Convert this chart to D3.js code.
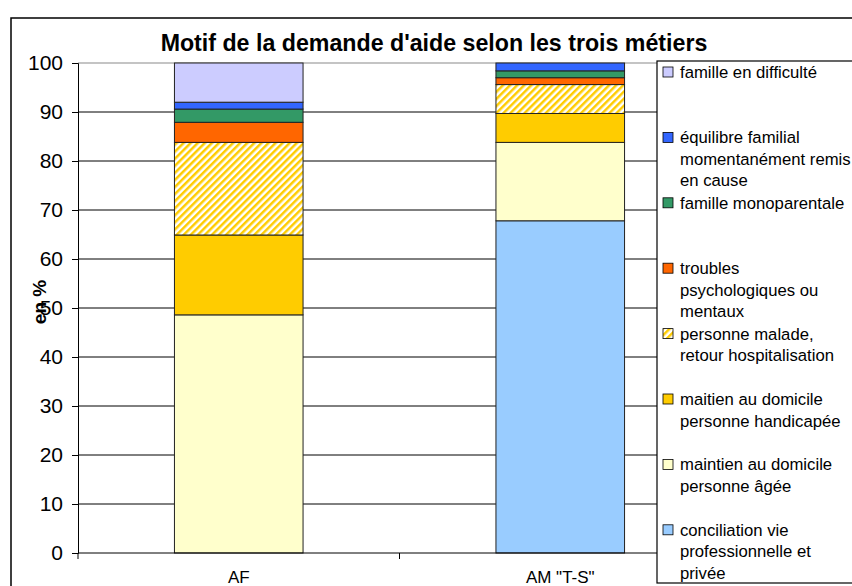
<!DOCTYPE html>
<html>
<head>
<meta charset="utf-8">
<script src="https://cdn.jsdelivr.net/npm/d3@7"></script>
<style>
  body { margin: 0; background: #fff; }
  svg { display: block; font-family: "Liberation Sans", Arial, sans-serif; }
</style>
</head>
<body>
<svg id="chart" width="852" height="586"></svg>
<script>
// categories (bars) and series (stack order, bottom to top)
var categories = ["AF", "AM \"T-S\""]
var seriesNames = [
  "conciliation vie professionnelle et privée",
  "maintien au domicile personne âgée",
  "maitien au domicile personne handicapée",
  "personne malade, retour hospitalisation",
  "troubles psychologiques ou mentaux",
  "famille monoparentale",
  "équilibre familial momentanément remis en cause",
  "famille en difficulté"
]
var conciliation = [0, 67.8]
var ageePersonne = [48.6, 16.0]
var handicapee = [16.3, 5.9]
var malade = [18.9, 5.9]
var troubles = [4.1, 1.4]
var monoparentale = [2.7, 1.4]
var equilibre = [1.4, 1.6]
var difficulte = [8.0, 0]
var yTicks = [0, 10, 20, 30, 40, 50, 60, 70, 80, 90, 100]

// legend lines (top to bottom)
var legendLines = [
  ["famille en difficulté"],
  ["équilibre familial", "momentanément remis", "en cause"],
  ["famille monoparentale"],
  ["troubles", "psychologiques ou", "mentaux"],
  ["personne malade,", "retour hospitalisation"],
  ["maitien au domicile", "personne handicapée"],
  ["maintien au domicile", "personne âgée"],
  ["conciliation vie", "professionnelle et", "privée"]
]

var colors = ["#99ccff", "#ffffcc", "#ffcc00", "url(#hatch)", "#ff6600", "#339966", "#3366ff", "#ccccff"]

var values = [conciliation, ageePersonne, handicapee, malade, troubles, monoparentale, equilibre, difficulte]
var rows = categories.map((c, i) => {
  var o = {cat: c}
  seriesNames.forEach((s, j) => { o[s] = values[j][i] })
  return o
})
var stacked = d3.stack().keys(seriesNames)(rows)

var svg = d3.select("#chart")
var defs = svg.append("defs")
var pat = defs.append("pattern").attr("id", "hatch")
  .attr("patternUnits", "userSpaceOnUse").attr("width", 5).attr("height", 5)
  .attr("patternTransform", "rotate(45)")
pat.append("rect").attr("width", 5).attr("height", 5).attr("fill", "#fff")
pat.append("rect").attr("width", 2.5).attr("height", 5).attr("fill", "#ffcc00")

// outer frame
svg.append("rect").attr("x", 11).attr("y", 18).attr("width", 900).attr("height", 700)
  .attr("fill", "none").attr("stroke", "#000").attr("stroke-width", 1.5)

var margin = {left: 78, top: 63}
var w = 721 - 78, h = 553 - 63

var g = svg.append("g").attr("transform", `translate(${margin.left},${margin.top})`)

var x = d3.scaleBand().domain(categories).range([0, w]).paddingInner(0.6).paddingOuter(0.3)
var y = d3.scaleLinear().domain([0, 100]).range([h, 0])

// gridlines
g.selectAll(".grid").data(yTicks.filter(t => t > 0)).join("line").attr("class", "grid")
  .attr("x1", 0).attr("x2", w).attr("y1", d => y(d)).attr("y2", d => y(d))
  .attr("stroke", d => d === 100 ? "#b0b0b0" : "#000").attr("stroke-width", d => d === 100 ? 1.5 : 1)

// bars
g.selectAll(".layer").data(stacked).join("g").attr("class", "layer")
  .attr("fill", (d, i) => colors[i])
  .selectAll("rect").data(d => d.filter(p => p[1] - p[0] > 0)).join("rect")
  .attr("x", d => x(d.data.cat))
  .attr("width", x.bandwidth())
  .attr("y", d => y(d[1]))
  .attr("height", d => y(d[0]) - y(d[1]))
  .attr("stroke", "#222").attr("stroke-width", 1)

// y axis
var yAxis = g.append("g").call(d3.axisLeft(y).tickValues(yTicks).tickSize(6).tickPadding(9))
yAxis.select(".domain").attr("stroke", "#000")
yAxis.selectAll("text").attr("font-size", 21).attr("fill", "#000").attr("font-family", "Liberation Sans, Arial")

// x axis
var xTickPos = [0, w / 2, w]
var xa = g.append("g").attr("transform", `translate(0,${h})`)
xa.append("line").attr("x1", 0).attr("x2", w).attr("stroke", "#000")
xa.selectAll(".xt").data(xTickPos).join("line").attr("class", "xt")
  .attr("x1", d => d).attr("x2", d => d).attr("y1", 0).attr("y2", 6).attr("stroke", "#000")
xa.selectAll(".xl").data(categories).join("text").attr("class", "xl")
  .attr("x", d => x(d) + x.bandwidth() / 2).attr("y", 29.5)
  .attr("text-anchor", "middle").attr("font-size", 17).text(d => d)

// title
svg.append("text").attr("x", 434).attr("y", 51).attr("text-anchor", "middle")
  .attr("font-size", 23.2).attr("font-weight", "bold").text("Motif de la demande d'aide selon les trois métiers")

// y label
svg.append("text").attr("transform", "translate(46,302) rotate(-90)").attr("text-anchor", "middle")
  .attr("font-size", 19).attr("font-weight", "bold").text("en %")

// legend
var lg = svg.append("g")
lg.append("rect").attr("x", 657).attr("y", 61).attr("width", 260).attr("height", 522)
  .attr("fill", "#fff").attr("stroke", "#000").attr("stroke-width", 1.2)
var legendColors = colors.slice().reverse()
var item = lg.selectAll(".item").data(legendLines).join("g").attr("class", "item")
  .attr("transform", (d, i) => `translate(663,${72 + i * 65.4})`)
item.append("rect").attr("x", 0).attr("y", -5).attr("width", 10).attr("height", 10)
  .attr("fill", (d, i) => legendColors[i]).attr("stroke", "#000").attr("stroke-width", 0.8)
item.selectAll("text").data(d => d).join("text")
  .attr("x", 17).attr("y", (d, i) => 6 + i * 21.5)
  .attr("font-size", 16.7).text(d => d)
</script>
</body>
</html>
